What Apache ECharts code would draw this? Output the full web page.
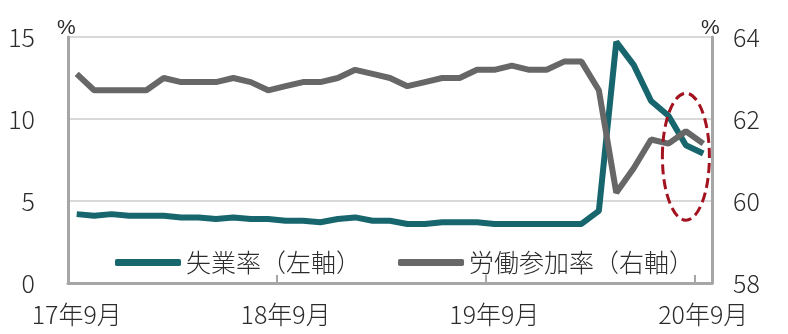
<!DOCTYPE html>
<html>
<head>
<meta charset="utf-8">
<script src="https://cdn.jsdelivr.net/npm/echarts@6/dist/echarts.min.js"></script>
<style>
html,body{margin:0;padding:0;background:#fff;}
#c{width:788px;height:334px;}
</style>
</head>
<body>
<div id="c"></div>
<script>
const categories = [
  "17年9月","17年10月","17年11月","17年12月",
  "18年1月","18年2月","18年3月","18年4月","18年5月","18年6月","18年7月","18年8月","18年9月","18年10月","18年11月","18年12月",
  "19年1月","19年2月","19年3月","19年4月","19年5月","19年6月","19年7月","19年8月","19年9月","19年10月","19年11月","19年12月",
  "20年1月","20年2月","20年3月","20年4月","20年5月","20年6月","20年7月","20年8月","20年9月"
];
const unemployment = [
  4.2, 4.1, 4.2, 4.1,
  4.1, 4.1, 4.0, 4.0, 3.9, 4.0, 3.9, 3.9, 3.8, 3.8, 3.7, 3.9,
  4.0, 3.8, 3.8, 3.6, 3.6, 3.7, 3.7, 3.7, 3.6, 3.6, 3.6, 3.6,
  3.6, 3.6, 4.4, 14.7, 13.3, 11.1, 10.2, 8.4, 7.9
];
const participation = [
  63.1, 62.7, 62.7, 62.7,
  62.7, 63.0, 62.9, 62.9, 62.9, 63.0, 62.9, 62.7, 62.8, 62.9, 62.9, 63.0,
  63.2, 63.1, 63.0, 62.8, 62.9, 63.0, 63.0, 63.2, 63.2, 63.3, 63.2, 63.2,
  63.4, 63.4, 62.7, 60.2, 60.8, 61.5, 61.4, 61.7, 61.4
];
const leftTicks = {min: 0, max: 15, interval: 5};
const rightTicks = {min: 58, max: 64, interval: 2};
const seriesNames = ["失業率（左軸）", "労働参加率（右軸）"];

const FONT = '"Noto Sans CJK JP", "Noto Sans", sans-serif';
const TXT = '#2b2b2b';
const AXIS = '#a6a6a6';
const W = 300;

const chart = echarts.init(document.getElementById('c'), null, {renderer: 'canvas'});
chart.setOption({
  animation: false,
  textStyle: {fontFamily: FONT, fontWeight: W},
  grid: {left: 68, right: 76, top: 37, bottom: 51, containLabel: false},
  legend: {
    left: 115, top: 250, padding: 0,
    itemWidth: 66, itemHeight: 7, itemGap: 37,
    icon: 'roundRect',
    textStyle: {fontSize: 25, color: TXT, fontFamily: FONT, fontWeight: W},
    data: seriesNames
  },
  xAxis: {
    type: 'category',
    data: categories,
    boundaryGap: true,
    axisLine: {lineStyle: {color: AXIS, width: 3}},
    axisTick: {show: true, inside: true, length: 8, interval: 11, lineStyle: {color: AXIS, width: 2}},
    axisLabel: {interval: 11, fontSize: 25, color: TXT, margin: 19, fontFamily: FONT, fontWeight: W},
    splitLine: {show: false}
  },
  yAxis: [
    {
      type: 'value', position: 'left',
      min: leftTicks.min, max: leftTicks.max, interval: leftTicks.interval,
      axisLine: {show: true, lineStyle: {color: AXIS, width: 3}},
      axisTick: {show: false},
      axisLabel: {fontSize: 25, color: TXT, margin: 33, fontFamily: FONT, fontWeight: W},
      splitLine: {show: true, lineStyle: {color: '#d9d9d9', width: 2}}
    },
    {
      type: 'value', position: 'right',
      min: rightTicks.min, max: rightTicks.max, interval: rightTicks.interval,
      axisLine: {show: true, lineStyle: {color: AXIS, width: 3}},
      axisTick: {show: false},
      axisLabel: {fontSize: 25, color: TXT, margin: 21, fontFamily: FONT, fontWeight: W},
      splitLine: {show: false}
    }
  ],
  series: [
    {
      name: seriesNames[0], type: 'line', yAxisIndex: 0, data: unemployment,
      symbol: 'none', lineStyle: {width: 6, color: '#17666e'}, itemStyle: {color: '#17666e'}, z: 3
    },
    {
      name: seriesNames[1], type: 'line', yAxisIndex: 1, data: participation,
      symbol: 'none', lineStyle: {width: 6, color: '#676767'}, itemStyle: {color: '#676767'}, z: 4
    }
  ]
});

const ellCenter = chart.convertToPixel({xAxisIndex: 0, yAxisIndex: 1}, [35.1, 61.08]);
chart.setOption({
  graphic: [
    {type: 'text', left: 57, top: 18, style: {text: '%', fontSize: 21, fill: TXT, fontFamily: '"Liberation Sans Narrow", "Liberation Sans", sans-serif'}},
    {type: 'text', left: 701, top: 18, style: {text: '%', fontSize: 21, fill: TXT, fontFamily: '"Liberation Sans Narrow", "Liberation Sans", sans-serif'}},
    {type: 'ellipse', z: 100,
      shape: {cx: ellCenter[0], cy: ellCenter[1], rx: 23.5, ry: 63.5},
      style: {fill: 'none', stroke: '#a3131f', lineWidth: 3, lineDash: [10, 5]}}
  ]
});
</script>
</body>
</html>
